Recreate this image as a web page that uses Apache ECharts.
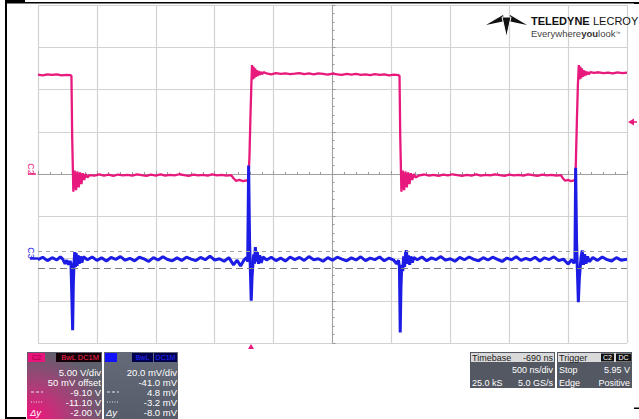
<!DOCTYPE html>
<html>
<head>
<meta charset="utf-8">
<script src="https://cdn.jsdelivr.net/npm/echarts@6/dist/echarts.min.js"></script>
<style>
html,body{margin:0;padding:0;background:#fff;}
#chart{width:639px;height:419px;}
</style>
</head>
<body>
<div id="chart"></div>
<script>
// ---- Channel C2 (pink), time in ns relative to screen centre, value in volts ----
const pinkTimeNs = [
-2500,-2460,-2420,-2380,-2340,-2300,-2260,-2225,
-2216,-2210,-2200,-2189,-2177,-2166,-2154,-2143,-2131,-2120,-2108,-2095,-2080,
-2060,-2020,-1980,-1940,-1900,-1860,-1820,-1780,-1740,-1700,-1660,-1620,-1580,-1540,-1500,-1460,-1420,-1380,-1340,-1300,-1260,-1220,-1180,-1140,-1100,-1060,-1020,-980,-940,-900,-860,
-840,-820,-790,-760,-730,-715,
-705,-697,-689,-683,-677,-671,-664,-657,-650,-643,-636,-628,-620,-610,-598,-585,
-560,-520,-480,-440,-400,-360,-320,-280,-240,-200,-160,-120,-80,-40,0,40,80,120,160,200,240,280,320,360,400,440,480,520,
560,569,575,585,596,608,619,631,642,654,665,677,690,705,
740,780,820,860,900,940,980,1020,1060,1100,1140,1180,1220,1260,1300,1340,1380,1420,1460,1500,1540,1580,1620,1660,1700,1740,1780,1820,1860,1900,1940,
1955,1975,2000,2025,2050,2062,
2067,2075,2083,2091,2097,2103,2110,2117,2124,2131,2138,2146,2154,2164,2176,2189,
2220,2260,2300,2340,2380,2420,2460,2500
];
const pinkVolts = [
11.75,11.68,11.8,11.72,11.78,11.66,11.74,11.7,
11.6,4.5,-2.1,0.4,-1.9,0.3,-1.6,0.2,-1.2,0.1,-0.7,0.0,-0.4,
-0.12,-0.2,-0.05,-0.18,-0.08,-0.22,-0.06,-0.16,-0.1,-0.2,-0.04,-0.14,-0.22,-0.08,-0.18,-0.05,-0.2,-0.1,-0.17,-0.03,-0.13,-0.21,-0.07,-0.17,-0.1,-0.2,-0.05,-0.16,-0.1,-0.2,-0.13,
-0.5,-0.8,-0.7,-0.85,-0.75,-0.8,
2.0,6.5,10.5,12.9,11.2,12.7,11.3,12.5,11.5,12.3,11.6,12.2,11.7,12.1,11.8,12.05,
11.9,11.8,11.95,11.85,11.92,11.82,11.88,11.95,11.83,11.9,11.8,11.92,11.85,11.76,11.88,11.8,11.72,11.84,11.77,11.86,11.74,11.8,11.7,11.82,11.74,11.79,11.68,11.75,
11.7,11.6,4.5,-2.1,0.4,-1.9,0.3,-1.6,0.2,-1.2,0.1,-0.7,0.0,-0.4,
-0.15,-0.06,-0.2,-0.1,-0.22,-0.07,-0.17,-0.03,-0.14,-0.22,-0.1,-0.18,-0.05,-0.2,-0.1,-0.17,-0.04,-0.14,-0.22,-0.07,-0.17,-0.1,-0.2,-0.05,-0.14,-0.22,-0.07,-0.17,-0.1,-0.2,-0.14,
-0.5,-0.8,-0.7,-0.85,-0.75,-0.8,
2.0,6.5,10.5,12.9,11.2,12.7,11.3,12.5,11.5,12.3,11.6,12.2,11.7,12.1,11.8,12.05,
11.97,12.04,11.93,12.0,11.9,12.03,11.95,12.0
];

// ---- Channel C3 (blue), time in ns, value in mV ----
const blueTimeNs = [
-2500,-2460,-2420,-2380,-2340,-2310,-2290,-2270,-2255,-2240,-2228,-2220,
-2212,-2206,-2200,-2194,-2188,-2182,-2176,-2168,-2160,-2150,-2140,-2128,-2115,
-2080,-2040,-2000,-1960,-1920,-1880,-1840,-1800,-1760,-1720,-1680,-1640,-1600,-1560,-1520,-1480,-1440,-1400,-1360,-1320,-1280,-1240,-1200,-1160,-1120,-1080,-1040,-1000,-960,-920,-880,-840,-810,-780,-750,-730,
-720,-712,-704,-697,-690,-683,-676,-669,-662,-655,-647,-638,-628,-618,-605,-590,
-560,-520,-480,-440,-400,-360,-320,-280,-240,-200,-160,-120,-80,-40,0,40,80,120,160,200,240,280,320,360,400,440,480,520,545,560,
568,575,581,588,596,604,612,620,628,636,645,655,665,678,690,
720,760,800,840,880,920,960,1000,1040,1080,1120,1160,1200,1240,1280,1320,1360,1400,1440,1480,1520,1560,1600,1640,1680,1720,1760,1800,1840,1880,1920,1960,2000,2030,2050,
2058,2064,2072,2079,2087,2095,2103,2111,2120,2130,2140,2152,2165,2180,
2210,2250,2290,2330,2370,2410,2450,2500
];
const blueMilliVolts = [
-0.5,0.6,-1.0,0.4,-0.7,0.8,-0.3,-2.5,-0.8,-3.0,-1.2,-2.4,
-20,-34,-12,-2,3,-4,2.5,-3.5,1.5,-2.5,1.0,-2.0,0.8,
-0.6,0.7,-0.9,0.3,-1.2,0.5,-0.4,0.9,-0.8,0.1,-1.1,0.6,-0.2,-1.4,0.4,-0.7,0.8,-0.5,-1.1,0.3,-0.9,0.6,-0.3,-1.0,0.5,-0.6,1.1,-0.7,-0.1,-1.3,0.4,-3.0,-0.8,-3.5,-0.6,0.4,
-1.5,44,8.5,-6,-20,-9,-3,2,-2.5,5.4,-1.5,3,-2.5,1.5,-2,0.8,
-0.7,0.6,-1.0,0.2,-1.2,0.7,-0.5,0.5,-0.9,0.9,-0.6,-0.1,-1.3,0.4,-0.8,0.6,-0.3,-1.1,0.3,-0.7,0.8,-1.0,0.2,-0.5,0.7,-1.1,0.2,-0.8,-2.5,-0.8,
-4,-35,-14,-3,-6,1,-4,2.5,3.8,-2.5,1.5,-3,1,-2,0.5,
-0.6,0.7,-1.1,0.3,-0.5,0.9,-0.8,-0.1,-1.3,0.5,-0.6,0.7,-0.4,-1.1,0.4,-0.7,0.6,-0.4,-1.4,0.2,-0.6,0.8,-0.9,0.1,-0.7,0.6,-1.2,0.3,-0.5,0.8,-1.0,-0.3,-2.6,-0.6,-2.2,
-1.0,43,8,-6,-20.7,-10,-4,1,3.8,-3,2,-2.5,1.0,-1.5,
0.5,-0.9,0.7,-0.5,-1.2,0.4,-0.8,-0.4
];

// cursor levels of C2 (volts)
const cursorVolts = [-9.1, -11.1];

// panel texts
const c2Rows = ['5.00 V/div', '50 mV offset', '-9.10 V', '-11.10 V', '-2.00 V'];
const c3Rows = ['20.0 mV/div', '-41.0 mV', '4.8 mV', '-3.2 mV', '-8.0 mV'];

const pinkData = pinkTimeNs.map((t, i) => [t, pinkVolts[i]]);
const blueData = blueTimeNs.map((t, i) => [t, blueMilliVolts[i]]);

const FONT = '"Liberation Sans", Arial, sans-serif';
const PINK = '#e8197d';
const BLUE = '#1c1ce4';

function txt(x, y, s, opts) {
  opts = opts || {};
  return {
    type: 'text', x: x, y: y, rotation: opts.rotation || 0, z: 20,
    style: {
      text: s, fill: opts.fill || '#ffffff',
      fontSize: opts.size || 9, fontFamily: opts.family || FONT,
      fontWeight: opts.weight || 'normal', fontStyle: opts.style || 'normal',
      align: opts.align || 'left', verticalAlign: 'middle'
    }
  };
}
function rect(x, y, w, h, fill, z) {
  return { type: 'rect', z: z || 10, shape: { x: x, y: y, width: w, height: h }, style: { fill: fill } };
}
function hline(x1, x2, y, color, width, dash) {
  return { type: 'line', z: 20, shape: { x1: x1, y1: y, x2: x2, y2: y },
    style: { stroke: color, lineWidth: width, lineDash: dash || null } };
}
function poly(points, fill, stroke) {
  return { type: 'polygon', z: 20, shape: { points: points },
    style: { fill: fill, stroke: stroke || null, lineWidth: stroke ? 1 : 0 } };
}

const rowsY = [372, 382, 392, 402, 412];
const graphics = [];
// outer frame (scan border)
graphics.push(rect(5, 0, 2, 419, '#000'));
graphics.push(rect(5, 2, 631, 1.5, '#000'));
graphics.push(rect(5, 0, 20, 3, '#000'));
graphics.push(rect(5, 417, 21, 2, '#000'));
graphics.push(rect(634, 2, 5, 2, '#000'));
graphics.push(rect(634, 407.5, 5, 1.5, '#000'));

// channel markers
graphics.push(txt(31, 169, 'C2', { fill: PINK, size: 9, align: 'center', rotation: -Math.PI / 2 }));
graphics.push(hline(28, 36, 174, PINK, 1.5));
graphics.push(txt(31, 253, 'C3', { fill: BLUE, size: 9, align: 'center', rotation: -Math.PI / 2 }));
graphics.push(hline(30, 38, 258.5, BLUE, 2.5));
// trigger level marker (right) and trigger position (bottom)
graphics.push(poly([[628, 122], [634, 118.5], [634, 125.5]], PINK));
graphics.push(hline(633, 637, 122, PINK, 1.5));
graphics.push(poly([[251, 344], [248, 349], [254, 349]], PINK));

// C2 panel
graphics.push({ type: 'rect', z: 10, shape: { x: 27, y: 352, width: 75, height: 67 },
  style: { fill: { type: 'radial', x: 0.05, y: 1, r: 1.05, colorStops: [
    { offset: 0, color: '#f5117c' }, { offset: 0.45, color: '#b03c79' }, { offset: 1, color: '#5d606c' } ] } } });
graphics.push(rect(28, 353, 17, 9, '#e8147c', 11));
graphics.push(txt(36.5, 357.5, 'C2', { fill: '#9a0040', size: 7.5, align: 'center' }));
graphics.push(rect(56, 353, 45, 9, '#160008', 11));
graphics.push(txt(99, 357.5, 'BwL DC1M', { fill: '#ff2a55', size: 7.5, align: 'right' }));
c2Rows.forEach((s, i) => graphics.push(txt(101, rowsY[i], s, { align: 'right', size: 9.5 })));
graphics.push(hline(31, 43, 392, '#e8e8e8', 1, [3, 2]));
graphics.push(hline(31, 43, 402, '#e8e8e8', 1, [1, 1.5]));
graphics.push(txt(30, 412, 'Δy', { style: 'italic', size: 9.5 }));

// C3 panel
graphics.push({ type: 'rect', z: 10, shape: { x: 104, y: 352, width: 74, height: 67 },
  style: { fill: { type: 'linear', x: 0, y: 0, x2: 0, y2: 1, colorStops: [
    { offset: 0, color: '#646a78' }, { offset: 1, color: '#565c6a' } ] } } });
graphics.push(rect(105, 353, 12, 9, '#1212ff', 11));
graphics.push(rect(132, 353, 21, 9, '#00004e', 11));
graphics.push(rect(154, 353, 23, 9, '#00004e', 11));
graphics.push(txt(142.5, 357.5, 'BwL', { fill: '#2a2aff', size: 7, align: 'center' }));
graphics.push(txt(165.5, 357.5, 'DC1M', { fill: '#2a2aff', size: 7, align: 'center' }));
c3Rows.forEach((s, i) => graphics.push(txt(177, rowsY[i], s, { align: 'right', size: 9.5 })));
graphics.push(hline(107, 119, 392, '#e8e8e8', 1, [3, 2]));
graphics.push(hline(107, 119, 402, '#e8e8e8', 1, [1, 1.5]));
graphics.push(txt(106, 412, 'Δy', { style: 'italic', size: 9.5 }));

// Timebase panel
graphics.push(rect(470, 352, 85, 36, '#535862'));
graphics.push(rect(471, 353, 83, 9, '#d9d9d9', 11));
graphics.push(txt(472, 357.5, 'Timebase', { fill: '#222', size: 9 }));
graphics.push(txt(553, 357.5, '-690 ns', { fill: '#222', size: 9, align: 'right' }));
graphics.push(txt(553, 370, '500 ns/div', { align: 'right' }));
graphics.push(txt(472, 383, '25.0 kS', {}));
graphics.push(txt(553, 383, '5.0 GS/s', { align: 'right' }));
// Trigger panel
graphics.push(rect(557, 352, 75, 36, '#535862'));
graphics.push(rect(558, 353, 73, 9, '#d9d9d9', 11));
graphics.push(txt(559, 357.5, 'Trigger', { fill: '#222', size: 9 }));
graphics.push(rect(601, 353.5, 13, 8, '#111', 12));
graphics.push(rect(616, 353.5, 15, 8, '#111', 12));
graphics.push(txt(607.5, 357.5, 'C2', { size: 7, align: 'center' }));
graphics.push(txt(623.5, 357.5, 'DC', { size: 7, align: 'center' }));
graphics.push(txt(559, 370, 'Stop', {}));
graphics.push(txt(630, 370, '5.95 V', { align: 'right' }));
graphics.push(txt(559, 383, 'Edge', {}));
graphics.push(txt(630, 383, 'Positive', { align: 'right' }));

// Teledyne LeCroy logo
graphics.push(poly([[486, 25], [503, 15], [505, 21]], '#111'));
graphics.push(poly([[527, 25], [510, 15], [508, 21]], '#111'));
graphics.push(poly([[502, 17], [511, 17], [506.5, 37]], '#111', '#ffffff'));
graphics.push({ type: 'text', x: 531, y: 21, z: 20, style: {
  text: '{b|TELEDYNE} {n|LECROY}', verticalAlign: 'middle', align: 'left',
  rich: { b: { fontFamily: FONT, fontSize: 11, fontWeight: 'bold', fill: '#111' },
          n: { fontFamily: FONT, fontSize: 11, fill: '#111' } } } });
graphics.push({ type: 'text', x: 531, y: 33, z: 20, style: {
  text: '{n|Everywhere}{b|you}{n|look}{s|™}', verticalAlign: 'middle', align: 'left',
  rich: { b: { fontFamily: FONT, fontSize: 9.5, fontWeight: 'bold', fill: '#333' },
          n: { fontFamily: FONT, fontSize: 9.5, fill: '#444' },
          s: { fontFamily: FONT, fontSize: 5, fill: '#444' } } } });

const axisTickStyle = { show: true, inside: true, length: 3, lineStyle: { color: '#9a9a9a' } };
const minorTickStyle = { show: true, splitNumber: 5, length: 2, lineStyle: { color: '#9a9a9a' } };
const gridLine = { show: true, lineStyle: { color: '#d2d2d2', width: 1.2 } };

const chart = echarts.init(document.getElementById('chart'), null, { renderer: 'svg' });
chart.setOption({
  animation: false,
  backgroundColor: '#ffffff',
  grid: { left: 38, top: 5, width: 589, height: 338, show: false },
  xAxis: {
    type: 'value', min: -2500, max: 2500, interval: 500,
    axisLine: { show: true, onZero: true, onZeroAxisIndex: 0, lineStyle: { color: '#a0a0a0' } },
    axisTick: axisTickStyle, minorTick: minorTickStyle,
    axisLabel: { show: false }, splitLine: gridLine
  },
  yAxis: [
    { type: 'value', min: -20, max: 20, interval: 5,
      axisLine: { show: true, onZero: true, lineStyle: { color: '#a0a0a0' } },
      axisTick: axisTickStyle, minorTick: minorTickStyle,
      axisLabel: { show: false }, splitLine: gridLine },
    { type: 'value', min: -40, max: 120, interval: 20, show: false,
      axisLine: { show: false, onZero: false }, splitLine: { show: false } }
  ],
  series: [
    { type: 'line', name: 'C2', data: pinkData, yAxisIndex: 0, showSymbol: false, symbol: 'none',
      lineStyle: { color: PINK, width: 2.3 }, z: 3,
      markLine: { silent: true, symbol: 'none', label: { show: false },
        data: [
          { yAxis: cursorVolts[0], lineStyle: { color: '#a0a0a0', type: [4, 4], width: 1.2 } },
          { yAxis: cursorVolts[1], lineStyle: { color: '#808080', type: [7, 4], width: 1.2 } }
        ] } },
    { type: 'line', name: 'C3', data: blueData, yAxisIndex: 1, showSymbol: false, symbol: 'none',
      lineStyle: { color: BLUE, width: 3 }, z: 4 }
  ],
  graphic: graphics
});
</script>
</body>
</html>
